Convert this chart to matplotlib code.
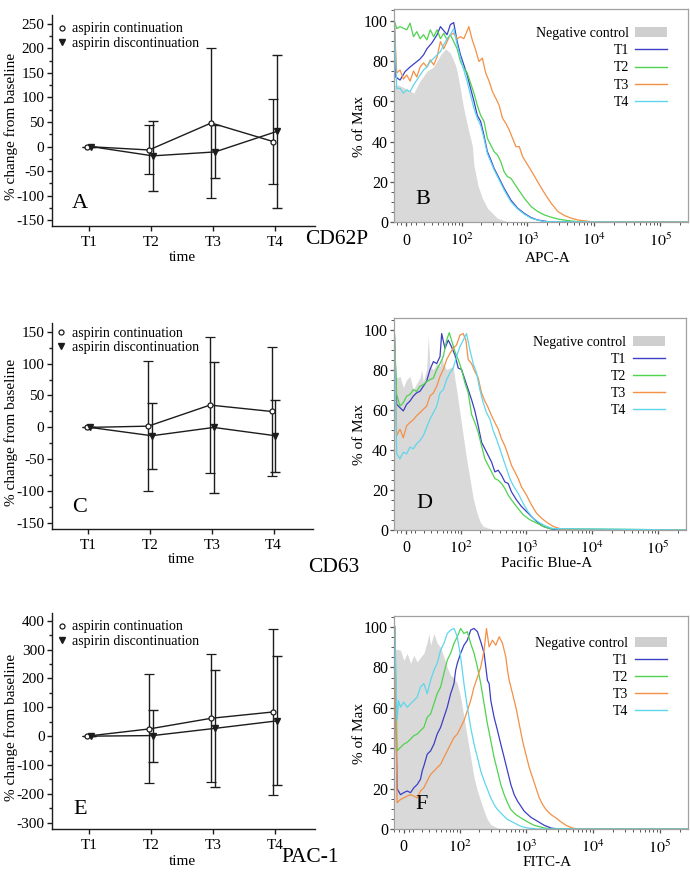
import numpy as np
import matplotlib
matplotlib.use("Agg")
import matplotlib.pyplot as plt
from matplotlib.lines import Line2D
from matplotlib.patches import Patch
from matplotlib.ticker import MultipleLocator

plt.rcParams['font.family'] = ['Liberation Serif', 'DejaVu Serif']
plt.rcParams['mathtext.fontset'] = 'stix'
plt.rcParams['axes.unicode_minus'] = False

times = ['T1', 'T2', 'T3', 'T4']

# % change from baseline, mean and error bar half-length
cd62p_cont = [0, -7, 48, 10]
cd62p_cont_err = [0, 50, 153, 86]
cd62p_disc = [0, -19, -11, 31]
cd62p_disc_err = [0, 72, 54, 156]

cd63_cont = [0, 2, 35, 25]
cd63_cont_err = [0, 102, 106, 101]
cd63_disc = [0, -13, 0, -13]
cd63_disc_err = [0, 52, 102, 56]

pac1_cont = [0, 25, 62, 84]
pac1_cont_err = [0, 189, 222, 288]
pac1_disc = [0, 2, 27, 53]
pac1_disc_err = [0, 90, 203, 224]

# flow histograms, (fluorescence, % of max)
b_neg = [(-12.6, 68), (-8, 68), (1, 66), (8, 64), (15, 70), (24, 75), (33, 77), (45, 83),
         (55, 86), (66, 84), (80, 78), (85, 75), (96, 66), (106, 58), (116, 52), (130, 45),
         (147, 38), (156, 28), (180, 18), (209, 12), (249, 7), (354, 2), (500, 0.3), (700, 0)]
b_t1 = [(-12.6, 100), (-11, 72), (-6.3, 70.5), (-1, 74.7), (4.2, 77), (9.6, 79), (15.2, 81),
        (19.3, 83), (23.6, 86), (30.7, 89), (38.8, 93), (44.7, 97), (51.2, 95), (58.4, 93),
        (66.3, 98), (75.1, 99), (85.3, 89.6), (96.4, 83), (108.8, 78), (122.7, 73), (138.3, 66.4),
        (155.7, 60), (175.2, 53), (197.1, 50), (221.7, 43), (249.3, 35), (280.6, 31), (315.4, 26.7),
        (375.6, 21.8), (447, 16.8), (564, 11), (712, 7), (899, 4.4), (1135, 2.3), (1432, 1.1),
        (2030, 0.3), (262143, 0)]
b_t2 = [(-12.6, 100), (-9.9, 96), (-6.3, 97), (0.7, 95.4), (4.2, 98.7), (7.8, 92), (11.4, 94.5),
        (15.2, 91), (19.3, 93), (23.6, 90.4), (28.2, 95.4), (33.3, 92), (38.8, 95.4), (44.7, 91),
        (51.2, 93.7), (58.4, 90.4), (66.3, 93), (75.1, 89.6), (85.3, 86), (96.4, 79.7), (108.8, 76.4),
        (122.7, 74), (138.3, 69), (155.7, 64), (175.2, 58), (197.1, 53), (221.7, 50), (249.3, 41.6),
        (280.6, 38.3), (315.4, 35), (354, 33.4), (397.8, 30), (447, 25), (502.6, 22.6), (564.4, 21.8),
        (712, 16.8), (899, 11.9), (1135, 7.8), (1432, 5.3), (1807, 3.6), (2280, 2.5), (2877, 1.6),
        (4077, 0.8), (5780, 0.3), (262143, 0)]
b_t3 = [(-12.6, 100), (-9.9, 74), (-6.3, 75.5), (-2.8, 71), (0.7, 73), (4.2, 70), (7.8, 75),
        (11.4, 72), (15.2, 77), (19.3, 79), (23.6, 77), (28.2, 80.5), (33.3, 78), (38.8, 82),
        (44.7, 89.6), (51.2, 86), (58.4, 89.6), (66.3, 93), (75.1, 93.7), (85.3, 91), (96.4, 92),
        (108.8, 91), (130.3, 97), (146.8, 90.4), (165.2, 85.5), (185.9, 79.7), (209.1, 81.4),
        (235.2, 74), (264.4, 70), (297.4, 64.8), (334, 61.5), (375.6, 58), (421.9, 51.6), (474, 49),
        (532.6, 45.8), (598.3, 41.6), (672, 37.5), (755, 37.5), (848, 32.5), (1010, 28.4),
        (1203, 24.3), (1432, 20), (1807, 14.4), (2280, 9.4), (2877, 5.3), (3630, 3.3), (4580, 2),
        (5780, 1.1), (9200, 0.3), (262143, 0)]
b_t4 = [(-12.6, 100), (-9.9, 66.4), (-6.3, 66.4), (-2.8, 64), (0.7, 65.6), (4.2, 64.8), (7.8, 68),
        (11.4, 70.5), (15.2, 73), (19.3, 75.5), (23.6, 77), (28.2, 79.7), (33.3, 81.3), (38.8, 83),
        (44.7, 84.6), (51.2, 88), (58.4, 91), (66.3, 93), (75.1, 96), (85.3, 88), (96.4, 81.3),
        (108.8, 75.5), (122.7, 69.7), (138.3, 63), (155.7, 56.5), (175.2, 51.6), (197.1, 48),
        (221.7, 41.6), (249.3, 34), (280.6, 30), (315.4, 26), (375.6, 21), (447, 16), (564, 10.2),
        (712, 6.6), (899, 4), (1135, 2), (1432, 1), (1807, 0.3), (262143, 0)]

d_neg = [(-12.6, 76), (-9.9, 76), (-6.3, 76.6), (-2.8, 71), (0.7, 75), (4.2, 76.6), (7.8, 70),
         (11.4, 73), (15.2, 75.8), (17.2, 80), (19.3, 74), (23.6, 80), (25.8, 97), (28.2, 81.6),
         (33.3, 80), (38.8, 83), (44.7, 81.6), (47.9, 88), (51.2, 83), (58.4, 80), (66.3, 80.8),
         (75.1, 81.6), (80.2, 75), (85.3, 70), (96.4, 58.5), (108.8, 47), (122.7, 35.5),
         (138.3, 25.7), (155.7, 15.8), (175.2, 9.2), (197.1, 4.3), (221.7, 1.8), (280.6, 0.7), (354, 0)]
d_t1 = [(-12.6, 100), (-9.9, 62.7), (-6.3, 61), (-2.8, 59.4), (0.7, 62.7), (4.2, 64.3), (7.8, 66.8),
        (11.4, 68.4), (15.2, 69.2), (19.3, 71.7), (23.6, 74.2), (28.2, 80), (33.3, 84), (38.8, 83),
        (44.7, 86.5), (47.9, 98), (54.7, 90.6), (62.3, 94.7), (70.6, 91.4), (80.2, 87.3), (90.7, 80.8),
        (102.5, 80), (115.6, 75), (130.3, 70), (146.8, 65), (165.2, 59.4), (185.9, 52), (209.1, 43.8),
        (235.2, 40.5), (264.4, 37.2), (297.4, 33.9), (334, 29), (375.6, 29.8), (421.9, 27.3), (474, 24),
        (532.6, 23.2), (598.3, 19), (712, 15), (848, 11.7), (1010, 9.2), (1203, 6.7), (1432, 4.3),
        (1807, 1.8), (2280, 0.7), (2877, 0), (262143, 0)]
d_t2 = [(-12.6, 100), (-9.9, 67.6), (-6.3, 61.8), (-2.8, 63.5), (0.7, 66.8), (4.2, 67.6), (7.8, 70),
        (11.4, 69.2), (15.2, 71.7), (19.3, 72.5), (23.6, 74), (28.2, 75), (33.3, 75.8), (38.8, 80),
        (44.7, 83), (51.2, 86.5), (58.4, 94.7), (64.7, 98.4), (70.6, 94.7), (80.2, 89), (90.7, 85),
        (102.5, 80), (115.6, 73.4), (130.3, 68.4), (146.8, 57.7), (165.2, 53.6), (185.9, 48.7),
        (209.1, 42), (235.2, 35.5), (264.4, 32.2), (297.4, 29), (334, 25.7), (375.6, 24.8),
        (421.9, 23.2), (474, 20.7), (532.6, 17.4), (598.3, 15), (712, 11.7), (899, 7.6), (1135, 5.1),
        (1432, 3.5), (1807, 1.8), (2280, 0.7), (262143, 0)]
d_t3 = [(-12.6, 100), (-9.9, 47), (-6.3, 50.3), (-2.8, 46), (0.7, 52), (4.2, 53.6), (7.8, 55),
        (11.4, 57), (15.2, 58.5), (19.3, 60.2), (23.6, 61.8), (28.2, 66.8), (33.3, 68.4), (38.8, 71.7),
        (44.7, 76.6), (51.2, 80), (58.4, 85), (66.3, 88), (75.1, 90.6), (85.3, 92.3), (96.4, 97.2),
        (108.8, 98), (119.8, 94.7), (130.3, 85), (146.8, 83), (165.2, 79), (185.9, 75.8), (209.1, 68.4),
        (235.2, 64.3), (264.4, 61), (297.4, 57), (334, 53.6), (375.6, 50.3), (421.9, 45.4), (474, 42),
        (532.6, 37.2), (598.3, 32.2), (672, 29), (755, 25.7), (848, 21.5), (1010, 17.4), (1203, 12.5),
        (1432, 8.4), (1705, 5.9), (2030, 3.9), (2561, 1.8), (3231, 0.7), (4077, 0), (262143, 0)]
d_t4 = [(-12.6, 100), (-9.9, 38), (-6.3, 35.5), (-2.8, 38.8), (0.7, 38), (4.2, 41.3), (7.8, 40.5),
        (11.4, 43), (15.2, 44.6), (19.3, 47), (23.6, 51.2), (28.2, 55.3), (33.3, 58.5), (38.8, 61.8),
        (44.7, 68.4), (51.2, 70), (58.4, 75), (66.3, 78.3), (75.1, 80.8), (85.3, 86.5), (96.4, 91.4),
        (108.8, 94.7), (122.7, 98), (138.3, 89.8), (155.7, 83), (175.2, 78.3), (197.1, 70),
        (221.7, 63.5), (249.3, 58.5), (280.6, 55.3), (315.4, 49.5), (354, 45.4), (397.8, 40.5),
        (447, 35.5), (502.6, 30.6), (564.4, 25.7), (630, 22.4), (755, 18.3), (899, 13.3), (1060, 9.2),
        (1275, 5.9), (1609, 3.5), (2030, 1.8), (2561, 0.7), (262143, 0)]

f_neg = [(-9.5, 89), (-7, 89), (-3.4, 88.5), (0, 83.5), (3.5, 87), (7, 82), (10.6, 86), (14.3, 82.7),
         (18.2, 85), (22.4, 87), (26.9, 92.7), (29.3, 96.8), (31.8, 91), (37, 96.8), (42.6, 92),
         (49, 90), (55.9, 85), (63.6, 80), (72.2, 76), (81.7, 75), (92.2, 72), (104, 65.3), (117, 55.3),
         (132, 45.3), (148.5, 35.4), (167, 25.4), (188, 18.8), (211, 13.8), (237, 8.8), (266, 4.7),
         (299, 2.2), (377, 0.5), (474, 0)]
f_t1 = [(-9.5, 100), (-7, 20), (-3.4, 17), (0, 18), (3.5, 18.8), (7, 18), (10.6, 20.4), (14.3, 22),
        (18.2, 24.6), (20.3, 28.7), (22.4, 31.2), (26.9, 37), (31.8, 38.7), (37, 42), (42.6, 47),
        (49, 50.3), (55.9, 55.3), (63.6, 60.3), (72.2, 67), (76.9, 69.4), (81.7, 72), (86.9, 78.6),
        (92.2, 82), (104, 87), (117, 91), (132, 93.5), (148.5, 98.5), (167, 99.3), (188, 97.7),
        (211, 92.7), (237, 87), (266, 73.6), (282, 72), (299, 63.6), (335, 55.3), (377, 48.7),
        (422, 42), (474, 35.4), (532, 28.7), (597, 22), (670, 17), (751, 13.8), (843, 11.3),
        (946, 8.8), (1190, 5.8), (1500, 3.8), (1890, 1.8), (2380, 0.5), (3000, 0), (262143, 0)]
f_t2 = [(-9.5, 100), (-7, 38.7), (-3.4, 40.4), (0, 42), (3.5, 42.9), (7, 44.5), (10.6, 46.2),
        (14.3, 47), (18.2, 48.7), (22.4, 50.3), (26.9, 55.3), (31.8, 57), (37, 62), (42.6, 67),
        (49, 70.3), (55.9, 77), (63.6, 83.6), (72.2, 87), (81.7, 91.9), (92.2, 95.2), (104, 99.3),
        (117, 96.8), (132, 97.7), (148.5, 91.9), (167, 87), (188, 80.2), (211, 72), (237, 62),
        (266, 52), (299, 43.7), (335, 35.4), (377, 28.7), (422, 22), (474, 17), (532, 13), (597, 9.6),
        (710, 7.1), (843, 5.5), (1062, 3.5), (1336, 1.8), (1890, 0.5), (2500, 0), (262143, 0)]
f_t3 = [(-9.5, 100), (-7, 13), (-3.4, 14.6), (0, 15.4), (3.5, 16.3), (7, 17), (10.6, 16.3),
        (14.3, 15.4), (18.2, 18.8), (22.4, 20.4), (26.9, 23.8), (31.8, 27), (37, 28.7), (42.6, 30.4),
        (49, 32), (55.9, 35.4), (63.6, 38.7), (72.2, 42), (81.7, 45.3), (92.2, 47), (104, 50.3),
        (117, 53.6), (132, 58.6), (148.5, 63.6), (167, 70.3), (188, 75.2), (211, 80.2), (237, 88.5),
        (257, 99.3), (282, 90.2), (317, 93.5), (355, 91), (399, 95.2), (447, 92), (502, 85.2),
        (532, 78.6), (564, 73.6), (633, 67), (710, 60.3), (796, 52), (893, 43.7), (1002, 37),
        (1125, 30.4), (1262, 25.4), (1415, 20.4), (1590, 15.4), (1784, 12.1), (2003, 9.6),
        (2380, 7.1), (2820, 5.5), (3355, 3.5), (3990, 1.8), (4950, 0.5), (6000, 0), (262143, 0)]
f_t4 = [(-9.5, 100), (-7, 53.7), (-5.5, 63.6), (-3.4, 60.3), (0, 62.8), (3.5, 60.3), (7, 62),
        (10.6, 63.6), (14.3, 65.3), (18.2, 70.3), (22.4, 72), (26.9, 67), (31.8, 73.6), (37, 78.6),
        (42.6, 82), (49, 88.5), (55.9, 91.9), (63.6, 96.8), (72.2, 98.5), (81.7, 99.3), (92.2, 95.2),
        (104, 85.2), (117, 72), (132, 60.3), (148.5, 50.3), (167, 42), (188, 35.4), (211, 28.7),
        (237, 23.8), (266, 19.6), (299, 15.4), (335, 12.1), (377, 9.6), (447, 7.1), (532, 4.7),
        (670, 3), (843, 1.3), (1062, 0.5), (1500, 0), (262143, 0)]

flow_labels = ['T1', 'T2', 'T3', 'T4']
flow_colors = ['#3b3fc4', '#4fd24f', '#f39046', '#5fd6ec']
neg_color = '#d9d9d9'
INK = '#1c1c1c'


def fwd(x):
    return np.arcsinh(np.asarray(x, dtype=float) / 30.0) / np.log(10)


def inv(u):
    return 30.0 * np.sinh(np.asarray(u, dtype=float) * np.log(10))


def change_panel(ax, cont, cont_err, disc, disc_err, ylim, step, letter, letter_y, leg_y):
    xs = np.arange(1, len(times) + 1)
    ax.errorbar(xs - 0.03, cont, yerr=cont_err, color=INK, lw=1.0, elinewidth=1.0,
                capsize=3.3, capthick=1.0, marker='o', ms=3.6, mfc='white', mec=INK,
                mew=0.9, zorder=3)
    ax.errorbar(xs + 0.03, disc, yerr=disc_err, color=INK, lw=1.0, elinewidth=1.0,
                capsize=3.3, capthick=1.0, marker='v', ms=4.6, mfc=INK, mec=INK, zorder=3)
    ax.set_xlim(0.41, 4.64)
    ax.set_ylim(*ylim)
    ax.set_xticks(xs, times)
    lo = int(np.ceil(ylim[0] / step) * step)
    ax.set_yticks(np.arange(lo, ylim[1], step))
    ax.yaxis.set_minor_locator(MultipleLocator(step / 2))
    for s in ['top', 'right']:
        ax.spines[s].set_visible(False)
    for s in ['left', 'bottom']:
        ax.spines[s].set_color(INK)
        ax.spines[s].set_linewidth(1.0)
    ax.tick_params(axis='both', which='major', direction='out', length=3.5, width=1,
                   labelsize=11, pad=2, color=INK)
    ax.tick_params(axis='x', which='major', pad=4)
    ax.tick_params(axis='y', which='minor', direction='out', length=2.5, width=1, color=INK)
    ax.set_xlabel('time', fontsize=11)
    ax.xaxis.set_label_coords(0.495, -0.15)
    ax.xaxis.label.set_va('center')
    ax.set_ylabel('% change from baseline', fontsize=11)
    ax.yaxis.set_label_coords(-0.155, 0.47)
    ax.yaxis.label.set_va('center')
    ax.text(0.106, letter_y, letter, transform=ax.transAxes, fontsize=16,
            ha='center', va='center')
    handles = [
        Line2D([], [], ls='none', marker='o', ms=3.6, mfc='white', mec=INK, mew=0.9,
               label='aspirin continuation'),
        Line2D([], [], ls='none', marker='v', ms=4.6, mfc=INK, mec=INK,
               label='aspirin discontinuation'),
    ]
    ax.legend(handles=handles, loc='upper left', bbox_to_anchor=(0.015, leg_y),
              frameon=False, fontsize=10, handlelength=0.8, handletextpad=0.35,
              labelspacing=0.08, borderpad=0, borderaxespad=0)


def flow_panel(ax, neg, curves, xlabel, letter, letter_xy, xmin, leg_y, xlab_y):
    ax.set_xscale('function', functions=(fwd, inv))
    nx, ny = zip(*neg)
    ax.fill_between(nx, ny, 0, color=neg_color, lw=0, zorder=1)
    for pts, col in zip(curves, flow_colors):
        cx, cy = zip(*pts)
        ax.plot(cx, cy, color=col, lw=0.9, zorder=2)
    ax.set_xlim(xmin, 262143)
    ax.set_ylim(0, 105.6)
    ax.set_xticks([0, 100, 1000, 10000, 100000],
                  ['0', '$10^2$', '$10^3$', '$10^4$', '$10^5$'])
    minor = [-10, -5, 5] + list(range(10, 100, 10)) + \
        [m * 10 ** k for k in range(2, 6) for m in range(2, 10) if m * 10 ** k < 262143]
    ax.set_xticks(minor, minor=True)
    ax.set_yticks(np.arange(0, 101, 20))
    ax.yaxis.set_minor_locator(MultipleLocator(5))
    for s in ax.spines.values():
        s.set_color('#a0a0a0')
        s.set_linewidth(0.9)
    ax.tick_params(axis='both', which='major', direction='out', length=3, width=0.9,
                   labelsize=11.5, pad=1.5, color='#555555')
    ax.tick_params(axis='both', which='minor', direction='out', length=2, width=0.7,
                   color='#555555')
    ax.tick_params(axis='x', which='major', pad=4.5)
    ax.set_xlabel(xlabel, fontsize=11)
    ax.xaxis.set_label_coords(0.522, xlab_y)
    ax.xaxis.label.set_va('center')
    ax.set_ylabel('% of Max', fontsize=11)
    ax.yaxis.set_label_coords(-0.118, 0.45)
    ax.yaxis.label.set_va('center')
    ax.text(letter_xy[0], letter_xy[1], letter, transform=ax.transAxes, fontsize=16,
            ha='center', va='center')
    handles = [Patch(facecolor='#cfcfcf', edgecolor='none', label='Negative control')]
    handles += [Line2D([], [], color=c, lw=1.0, label=t) for c, t in zip(flow_colors, flow_labels)]
    ax.legend(handles=handles, loc='upper right', bbox_to_anchor=(0.928, leg_y),
              markerfirst=False, frameon=False, fontsize=10, handlelength=2.3,
              handletextpad=0.45, labelspacing=0.3, borderpad=0, borderaxespad=0)


fig = plt.figure(figsize=(6.9, 8.74), dpi=100)

ax_a = fig.add_axes([0.0754, 0.7414, 0.3812, 0.2414])
ax_b = fig.add_axes([0.5714, 0.7457, 0.4261, 0.2437])
ax_c = fig.add_axes([0.0754, 0.3947, 0.3783, 0.2354])
ax_d = fig.add_axes([0.5714, 0.3936, 0.4223, 0.2422])
ax_e = fig.add_axes([0.0758, 0.0518, 0.3807, 0.2465])
ax_f = fig.add_axes([0.5714, 0.0515, 0.4252, 0.2440])

change_panel(ax_a, cd62p_cont, cd62p_cont_err, cd62p_disc, cd62p_disc_err,
             (-162, 268), 50, 'A', 0.109, 0.965)
change_panel(ax_c, cd63_cont, cd63_cont_err, cd63_disc, cd63_disc_err,
             (-159, 163), 50, 'C', 0.105, 0.983)
change_panel(ax_e, pac1_cont, pac1_cont_err, pac1_disc, pac1_disc_err,
             (-321, 426), 100, 'E', 0.09, 0.967)

flow_panel(ax_b, b_neg, [b_t1, b_t2, b_t3, b_t4], 'APC-A', 'B', (0.098, 0.105), -12.6, 0.916, -0.168)
flow_panel(ax_d, d_neg, [d_t1, d_t2, d_t3, d_t4], 'Pacific Blue-A', 'D', (0.102, 0.127), -12.6, 0.918, -0.16)
flow_panel(ax_f, f_neg, [f_t1, f_t2, f_t3, f_t4], 'FITC-A', 'F', (0.093, 0.117), -9.5, 0.902, -0.156)

fig.text(337 / 690, 1 - 240 / 874, 'CD62P', ha='center', va='center', fontsize=15.5)
fig.text(334 / 690, 1 - 567 / 874, 'CD63', ha='center', va='center', fontsize=15.5)
fig.text(310 / 690, 1 - 857 / 874, 'PAC-1', ha='center', va='center', fontsize=15.5)

fig.savefig('out.png', dpi=100)
